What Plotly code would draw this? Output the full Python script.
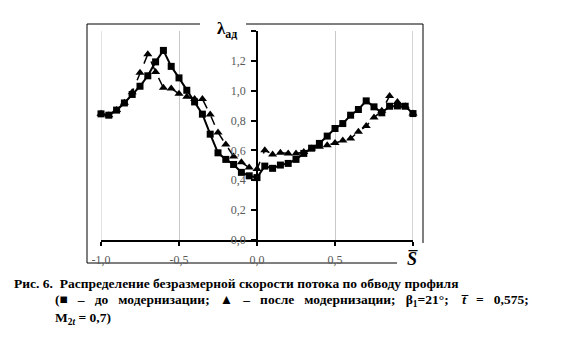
import plotly.graph_objects as go

# ---- data ----
s_before = [-1.00, -0.95, -0.90, -0.85, -0.80, -0.75, -0.70, -0.65, -0.60, -0.55, -0.50,
            -0.45, -0.40, -0.35, -0.30, -0.25, -0.20, -0.15, -0.10, -0.05, 0.00,
            0.05, 0.10, 0.15, 0.20, 0.25, 0.30, 0.35, 0.40, 0.45, 0.50,
            0.55, 0.60, 0.65, 0.70, 0.75, 0.80, 0.85, 0.90, 0.95, 1.00]
lam_before = [0.845, 0.836, 0.870, 0.918, 0.975, 1.030, 1.100, 1.193, 1.270, 1.163, 1.086,
              1.003, 0.925, 0.843, 0.709, 0.584, 0.540, 0.506, 0.453, 0.430, 0.418,
              0.495, 0.480, 0.502, 0.513, 0.540, 0.580, 0.615, 0.647, 0.696, 0.747,
              0.780, 0.836, 0.874, 0.932, 0.892, 0.852, 0.896, 0.898, 0.896, 0.847]

s_after = [-1.00, -0.95, -0.90, -0.85, -0.80, -0.75, -0.70, -0.65, -0.60, -0.55, -0.50,
           -0.45, -0.40, -0.35, -0.30, -0.25, -0.20, -0.15, -0.10, -0.05, 0.00,
           0.05, 0.10, 0.15, 0.20, 0.25, 0.30, 0.35, 0.40, 0.45, 0.50,
           0.55, 0.60, 0.65, 0.70, 0.75, 0.80, 0.85, 0.90, 0.95, 1.00]
lam_after = [0.845, 0.836, 0.870, 0.920, 0.990, 1.120, 1.244, 1.126, 1.020, 1.015, 0.980,
             0.960, 0.945, 0.945, 0.840, 0.720, 0.640, 0.560, 0.520, 0.485, 0.475,
             0.602, 0.573, 0.584, 0.580, 0.580, 0.590, 0.613, 0.624, 0.635, 0.649,
             0.667, 0.680, 0.725, 0.763, 0.820, 0.865, 0.965, 0.925, 0.896, 0.847]

x_tickvals = [-1.0, -0.5, 0.0, 0.5, 1.0]
x_ticktext = ["-1,0", "-0,5", "0,0", "0,5", ""]
y_tickvals = [0.0, 0.2, 0.4, 0.6, 0.8, 1.0, 1.2, 1.4]
y_ticktext = ["0,0", "0,2", "0,4", "0,6", "0,8", "1,0", "1,2", ""]

G = " \u00a0\u00a0"  # stretched word gap of the caption's (justified) second line
caption1 = "Рис. 6.  Распределение безразмерной скорости потока по обводу профиля"
caption2 = ("(■" + G + "–" + G + "до" + G + "модернизации;" + G + "▲" + G + "–" + G
            + "после" + G + "модернизации;" + G + "β<sub>1</sub>=21°;" + G + "\u00a0"
            + "<i>t\u0305</i>" + G + "=" + G + "0,575;")
caption3 = "M<sub>2<i>t</i></sub> = 0,7)"

# ---- page geometry (page pixels; the page body has an 8px margin) ----
W, H = 565, 344
OFF = 8
PL, PR, PT, PB = 101, 413, 31, 240  # data plot area in page pixels
X0_PX = 257                          # page column of s = 0 (y axis)


def fx(x):
    return (x - OFF) / W


def fy(y):
    return 1 - (y - OFF) / H


SERIF = "Liberation Serif"

fig = go.Figure()
fig.add_trace(go.Scatter(
    x=s_after, y=lam_after, mode="lines+markers",
    line=dict(color="black", width=1.5, dash="dash"),
    marker=dict(symbol="triangle-up", size=8, color="black"),
    showlegend=False, cliponaxis=False, hoverinfo="skip"))
fig.add_trace(go.Scatter(
    x=s_before, y=lam_before, mode="lines+markers",
    line=dict(color="black", width=2),
    marker=dict(symbol="square", size=7, color="black"),
    showlegend=False, cliponaxis=False, hoverinfo="skip"))

# outer chart-area frame (with gaps for the axis titles)
frame_segments = [
    (87, 24, 200, 24), (246, 24, 423, 24),
    (87, 24, 87, 263), (87, 263, 397, 263), (423, 24, 423, 243),
]
for (xa, ya, xb, yb) in frame_segments:
    fig.add_shape(type="line", xref="paper", yref="paper", layer="below",
                  x0=fx(xa), x1=fx(xb), y0=fy(ya), y1=fy(yb),
                  line=dict(color="black", width=1))

# gridlines at the axis ends
for gx in (-1.0, 1.0):
    fig.add_shape(type="line", xref="x", yref="y", layer="below",
                  x0=gx, x1=gx, y0=0, y1=1.4,
                  line=dict(color="#c8c8c8", width=1.5 if gx > 0 else 1))

annotations = [
    dict(xref="paper", yref="paper", x=fx(227), y=fy(30), text="<b>λ<sub>ад</sub></b>",
         showarrow=False, font=dict(family=SERIF, size=17, color="black"),
         xanchor="center", yanchor="middle"),
    dict(xref="paper", yref="paper", x=fx(412), y=fy(259), text="<b><i>S\u0305</i></b>",
         showarrow=False, font=dict(family=SERIF, size=18, color="black"),
         xanchor="center", yanchor="middle"),
    dict(xref="paper", yref="paper", x=fx(12), y=fy(283), text="<b>" + caption1 + "</b>",
         showarrow=False, font=dict(family=SERIF, size=13.5, color="black"),
         xanchor="left", yanchor="middle"),
    dict(xref="paper", yref="paper", x=fx(53), y=fy(300), text="<b>" + caption2 + "</b>",
         showarrow=False, font=dict(family=SERIF, size=13.5, color="black"),
         xanchor="left", yanchor="middle"),
    dict(xref="paper", yref="paper", x=fx(53), y=fy(318), text="<b>" + caption3 + "</b>",
         showarrow=False, font=dict(family=SERIF, size=13.5, color="black"),
         xanchor="left", yanchor="middle"),
]

fig.update_layout(
    width=W, height=H,
    margin=dict(l=0, r=0, t=0, b=0, pad=0, autoexpand=False),
    paper_bgcolor="white", plot_bgcolor="rgba(0,0,0,0)",
    font=dict(family=SERIF),
    showlegend=False,
    annotations=annotations,
    xaxis=dict(domain=[fx(PL), fx(PR)], automargin=False,
               range=[-1, 1], tickvals=x_tickvals, ticktext=x_ticktext,
               showgrid=True, gridcolor="#c8c8c8", gridwidth=1,
               zeroline=False, showline=True, linecolor="black", linewidth=1.5,
               ticks="outside", ticklen=4, tickcolor="black", tickwidth=1.5,
               tickfont=dict(family=SERIF, size=12, color="#595959"),
               ticklabelstandoff=4),
    yaxis=dict(domain=[fy(PB), fy(PT)], automargin=False,
               range=[0, 1.4], tickvals=y_tickvals, ticktext=y_ticktext,
               anchor="free", position=fx(X0_PX),
               showgrid=False, zeroline=False, showline=True, linecolor="black", linewidth=1.5,
               ticks="outside", ticklen=5, tickcolor="black", tickwidth=1.5,
               tickfont=dict(family=SERIF, size=12, color="#595959"),
               ticklabelstandoff=3),
)

fig.write_html("out.html", config={"displayModeBar": False})
